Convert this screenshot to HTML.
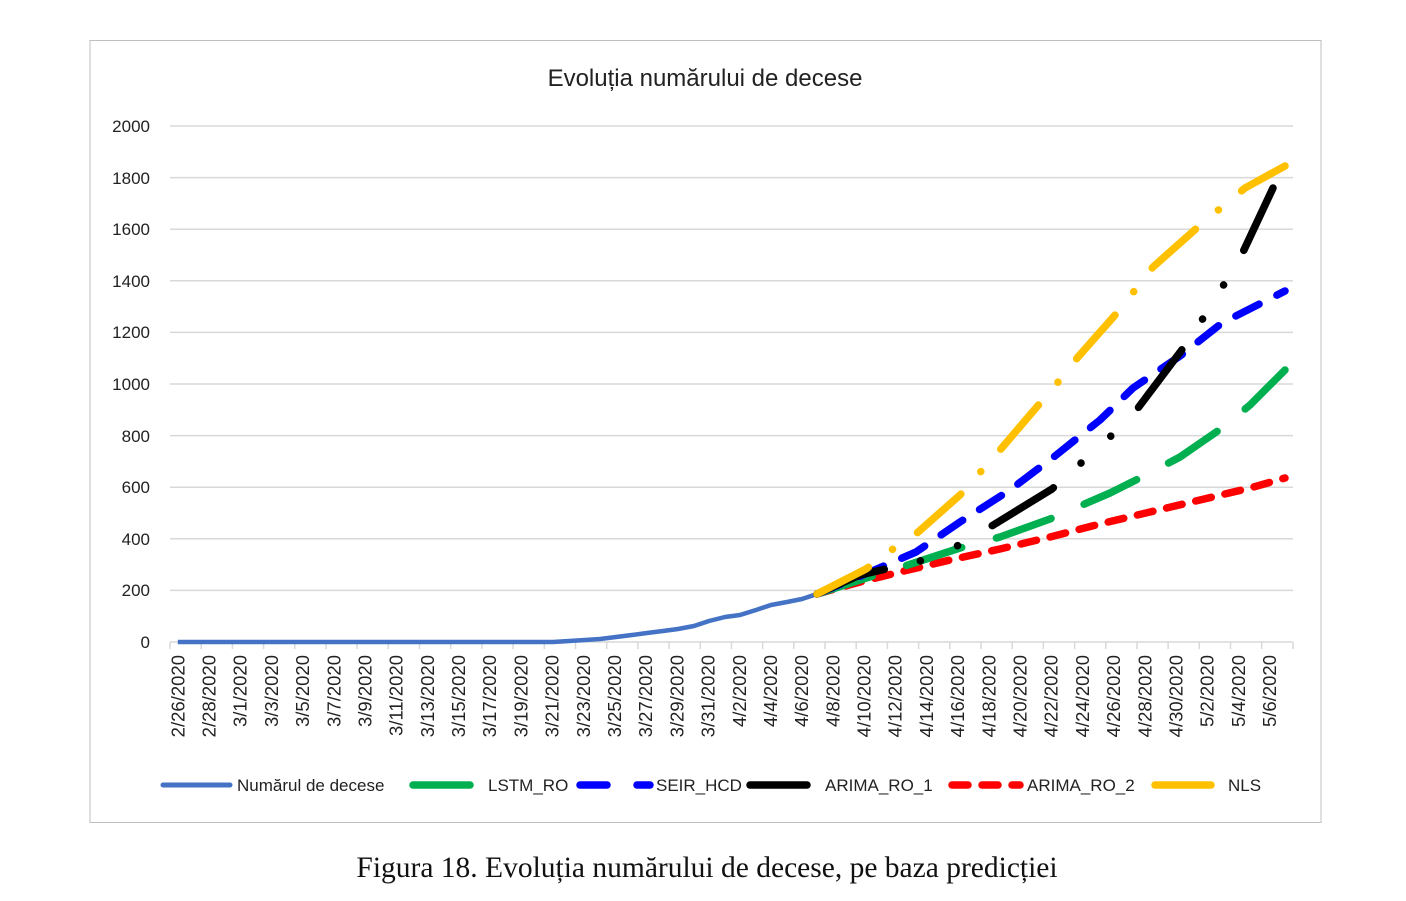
<!DOCTYPE html>
<html><head><meta charset="utf-8"><style>
html,body{margin:0;padding:0;background:#fff;}
svg{display:block;font-family:"Liberation Sans",sans-serif;}
</style></head><body>
<svg width="1406" height="901" viewBox="0 0 1406 901" xmlns="http://www.w3.org/2000/svg">
<rect x="90" y="40.5" width="1231" height="782" fill="#fff" stroke="#bfbfbf" stroke-width="1"/>
<text x="705" y="86" text-anchor="middle" font-size="24" fill="#222">Evoluția numărului de decese</text>
<g stroke="#d9d9d9" stroke-width="1.5">
<line x1="170" x2="1293" y1="126" y2="126"/><line x1="170" x2="1293" y1="177.6" y2="177.6"/>
<line x1="170" x2="1293" y1="229.2" y2="229.2"/><line x1="170" x2="1293" y1="280.8" y2="280.8"/>
<line x1="170" x2="1293" y1="332.4" y2="332.4"/><line x1="170" x2="1293" y1="384" y2="384"/>
<line x1="170" x2="1293" y1="435.6" y2="435.6"/><line x1="170" x2="1293" y1="487.2" y2="487.2"/>
<line x1="170" x2="1293" y1="538.8" y2="538.8"/><line x1="170" x2="1293" y1="590.4" y2="590.4"/>
<line x1="170" x2="1293" y1="642" y2="642"/>
</g>
<g font-size="17" fill="#222" text-anchor="end">
<text x="150" y="132">2000</text><text x="150" y="184">1800</text><text x="150" y="235">1600</text>
<text x="150" y="287">1400</text><text x="150" y="338">1200</text><text x="150" y="390">1000</text>
<text x="150" y="442">800</text><text x="150" y="493">600</text><text x="150" y="545">400</text>
<text x="150" y="596">200</text><text x="150" y="648">0</text>
</g>
<path stroke="#d9d9d9" stroke-width="1.5" d="M170,642v7M201.2,642v7M232.4,642v7M263.6,642v7M294.8,642v7M326,642v7M357.1,642v7M388.3,642v7M419.5,642v7M450.7,642v7M481.9,642v7M513.1,642v7M544.3,642v7M575.5,642v7M606.7,642v7M637.9,642v7M669.1,642v7M700.3,642v7M731.5,642v7M762.6,642v7M793.8,642v7M825,642v7M856.2,642v7M887.4,642v7M918.6,642v7M949.8,642v7M981,642v7M1012.2,642v7M1043.4,642v7M1074.6,642v7M1105.8,642v7M1137,642v7M1168.1,642v7M1199.3,642v7M1230.5,642v7M1261.7,642v7M1293,642v7"/>
<g font-size="18.5" fill="#222" text-anchor="end">
<text transform="translate(184.3,655) rotate(-90)">2/26/2020</text>
<text transform="translate(215.5,655) rotate(-90)">2/28/2020</text>
<text transform="translate(246.7,655) rotate(-90)">3/1/2020</text>
<text transform="translate(277.9,655) rotate(-90)">3/3/2020</text>
<text transform="translate(309.1,655) rotate(-90)">3/5/2020</text>
<text transform="translate(340.3,655) rotate(-90)">3/7/2020</text>
<text transform="translate(371.5,655) rotate(-90)">3/9/2020</text>
<text transform="translate(402.7,655) rotate(-90)">3/11/2020</text>
<text transform="translate(433.8,655) rotate(-90)">3/13/2020</text>
<text transform="translate(465.0,655) rotate(-90)">3/15/2020</text>
<text transform="translate(496.2,655) rotate(-90)">3/17/2020</text>
<text transform="translate(527.4,655) rotate(-90)">3/19/2020</text>
<text transform="translate(558.6,655) rotate(-90)">3/21/2020</text>
<text transform="translate(589.8,655) rotate(-90)">3/23/2020</text>
<text transform="translate(621.0,655) rotate(-90)">3/25/2020</text>
<text transform="translate(652.2,655) rotate(-90)">3/27/2020</text>
<text transform="translate(683.4,655) rotate(-90)">3/29/2020</text>
<text transform="translate(714.6,655) rotate(-90)">3/31/2020</text>
<text transform="translate(745.8,655) rotate(-90)">4/2/2020</text>
<text transform="translate(777.0,655) rotate(-90)">4/4/2020</text>
<text transform="translate(808.2,655) rotate(-90)">4/6/2020</text>
<text transform="translate(839.4,655) rotate(-90)">4/8/2020</text>
<text transform="translate(870.6,655) rotate(-90)">4/10/2020</text>
<text transform="translate(901.7,655) rotate(-90)">4/12/2020</text>
<text transform="translate(932.9,655) rotate(-90)">4/14/2020</text>
<text transform="translate(964.1,655) rotate(-90)">4/16/2020</text>
<text transform="translate(995.3,655) rotate(-90)">4/18/2020</text>
<text transform="translate(1026.5,655) rotate(-90)">4/20/2020</text>
<text transform="translate(1057.7,655) rotate(-90)">4/22/2020</text>
<text transform="translate(1088.9,655) rotate(-90)">4/24/2020</text>
<text transform="translate(1120.1,655) rotate(-90)">4/26/2020</text>
<text transform="translate(1151.3,655) rotate(-90)">4/28/2020</text>
<text transform="translate(1182.5,655) rotate(-90)">4/30/2020</text>
<text transform="translate(1213.7,655) rotate(-90)">5/2/2020</text>
<text transform="translate(1244.9,655) rotate(-90)">5/4/2020</text>
<text transform="translate(1276.1,655) rotate(-90)">5/6/2020</text>
</g>
<polyline fill="none" stroke="#4472C4" stroke-width="4.5" stroke-linejoin="round" points="177.8,642 553,642 569,641 585,640 600,639 616,637 632,635 647,633 663,631 678,629 694,626 709,621 725,617 740,615 756,610 771,605 787,602 802,599 817,594"/>
<g fill="none" stroke-width="7.5" stroke-linecap="round" stroke-linejoin="round">
<polyline stroke="#FF0000" stroke-dasharray="16 14" points="817,594 860,582 900,572 950,560 1000,549 1050,537 1100,524 1150,512 1200,500 1250,488 1285,478"/>
<polyline stroke="#00B050" stroke-dasharray="58 36" points="817,594 860,580 905,566 960,548 1000,537 1050,519 1110,493 1140,478 1180,457 1222,428 1250,405 1285,370"/>
<polyline stroke="#0000FF" stroke-dasharray="26 20" points="817,594 870,572 916,552 960,522 1010,490 1055,456 1100,420 1133,388 1180,356 1222,323 1285,291"/>
<polyline stroke="#000000" stroke-dasharray="72 37 0.1 40 0.1 40" points="817,594 860,575 920,561 957,546 990,527 1052,489 1080,464 1110,437 1138,408 1181,351 1202,320 1223,286 1243,252 1273,188"/>
<polyline stroke="#FFC000" stroke-dasharray="58 30 0.1 30" points="817,594 866,569 890,551 917,533 960,495 1000,450 1059,381 1078,357 1116,314 1135,290 1153,267 1198,227 1222,207 1245,188 1285,166"/>
</g>
<g stroke-width="7.5" stroke-linecap="round">
<line x1="163" y1="785" x2="230" y2="785" stroke="#4472C4" stroke-width="5"/>
<line x1="413" y1="785" x2="470" y2="785" stroke="#00B050"/>
<line x1="580" y1="785" x2="607" y2="785" stroke="#0000FF"/>
<line x1="637" y1="785" x2="650" y2="785" stroke="#0000FF"/>
<line x1="750" y1="785" x2="807" y2="785" stroke="#000"/>
<line x1="952" y1="785" x2="968" y2="785" stroke="#FF0000"/>
<line x1="982" y1="785" x2="998" y2="785" stroke="#FF0000"/>
<line x1="1012" y1="785" x2="1020" y2="785" stroke="#FF0000"/>
<line x1="1155" y1="785" x2="1211" y2="785" stroke="#FFC000"/>
</g>
<g font-size="17" fill="#222">
<text x="237" y="791">Numărul de decese</text>
<text x="488" y="791">LSTM_RO</text>
<text x="656" y="791">SEIR_HCD</text>
<text x="825" y="791">ARIMA_RO_1</text>
<text x="1027" y="791">ARIMA_RO_2</text>
<text x="1228" y="791">NLS</text>
</g>
<text x="707" y="877" text-anchor="middle" font-family="Liberation Serif, serif" font-size="29.5" fill="#111">Figura 18. Evoluția numărului de decese, pe baza predicției</text>
</svg>
</body></html>
